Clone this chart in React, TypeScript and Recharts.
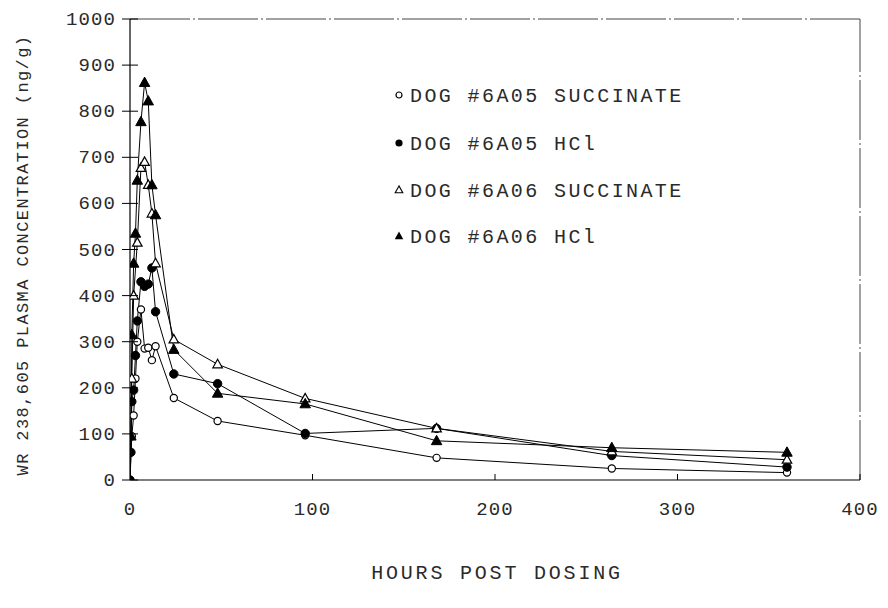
import React from "react";
import { LineChart, Line, XAxis, YAxis, ReferenceLine } from "recharts";

// ---- data ----
const seriesNames = [
  "DOG #6A05 SUCCINATE",
  "DOG #6A05 HCl",
  "DOG #6A06 SUCCINATE",
  "DOG #6A06 HCl",
];

const hours6A05Succ = [0, 1, 2, 3, 4, 6, 8, 10, 12, 14, 24, 48, 96, 168, 264, 360];
const conc6A05Succ = [0, 95, 140, 220, 300, 370, 285, 287, 260, 290, 178, 128, 97, 48, 25, 16];

const hours6A05HCl = [0, 0.5, 1, 2, 3, 4, 6, 8, 10, 12, 14, 24, 48, 96, 168, 264, 360];
const conc6A05HCl = [0, 60, 170, 195, 270, 345, 430, 420, 425, 460, 365, 230, 209, 101, 112, 53, 28];

const hours6A06Succ = [0, 1, 2, 4, 6, 8, 10, 12, 14, 24, 48, 96, 168, 264, 360];
const conc6A06Succ = [0, 220, 400, 515, 677, 690, 640, 578, 470, 305, 251, 177, 112, 62, 44];

const hours6A06HCl = [0, 0.5, 1, 2, 3, 4, 6, 8, 10, 12, 14, 24, 48, 96, 168, 264, 360];
const conc6A06HCl = [0, 95, 315, 470, 535, 650, 777, 862, 822, 640, 575, 283, 188, 165, 85, 70, 60];

const xTicks = [0, 100, 200, 300, 400];
const yTicks = [0, 100, 200, 300, 400, 500, 600, 700, 800, 900, 1000];

const zip = (h: number[], c: number[]) => h.map((t, i) => ({ t, v: c[i] }));

const FONT = "'Liberation Mono', 'DejaVu Sans Mono', monospace";
const INK = "#2a2a2a";

// ---- markers ----
const OpenCircle = (p: any) =>
  p.cx == null ? null : (
    <circle key={`oc-${p.index}`} cx={p.cx} cy={p.cy} r={3.6} fill="#fff" stroke="#000" strokeWidth={1.2} />
  );
const FilledCircle = (p: any) =>
  p.cx == null ? null : (
    <circle key={`fc-${p.index}`} cx={p.cx} cy={p.cy} r={4.2} fill="#000" stroke="#000" strokeWidth={1} />
  );
const triPath = (cx: number, cy: number, s: number) =>
  `M${cx},${cy - s} L${cx - s * 0.95},${cy + s * 0.7} L${cx + s * 0.95},${cy + s * 0.7} Z`;
const OpenTri = (p: any) =>
  p.cx == null ? null : (
    <path key={`ot-${p.index}`} d={triPath(p.cx, p.cy, 5)} fill="#fff" stroke="#000" strokeWidth={1.2} />
  );
const FilledTri = (p: any) =>
  p.cx == null ? null : (
    <path key={`ft-${p.index}`} d={triPath(p.cx, p.cy, 5.5)} fill="#000" stroke="#000" strokeWidth={1} />
  );

// ---- ticks ----
const YTick = (p: any) => {
  const { x, y, payload } = p;
  return (
    <g>
      <line x1={x + 6} x2={x + 22} y1={y} y2={y} stroke="#000" strokeWidth={1} />
      <text x={x} y={y} dy={6} textAnchor="end" fontFamily={FONT} fontSize={19} letterSpacing={1.1} fill={INK}>
        {payload.value}
      </text>
    </g>
  );
};

const XTick = (p: any) => {
  const { x, y, payload } = p;
  const axisY = y - 22;
  return (
    <g>
      {payload.value !== 0 && (
        <line x1={x} x2={x} y1={axisY - 6} y2={axisY} stroke="#000" strokeWidth={1} />
      )}
      <text x={x} y={y + 13} textAnchor="middle" fontFamily={FONT} fontSize={19} letterSpacing={1.1} fill={INK}>
        {payload.value}
      </text>
    </g>
  );
};

const legendMarkers = [
  <circle cx={0} cy={0} r={3} fill="#fff" stroke="#000" strokeWidth={1.2} />,
  <circle cx={0} cy={0} r={3.6} fill="#000" />,
  <path d={triPath(0, 0, 4)} fill="#fff" stroke="#000" strokeWidth={1.1} />,
  <path d={triPath(0, 0, 4.5)} fill="#000" />,
];
const legendRows = [95, 143, 190, 236];

export default function App() {
  return (
    <div style={{ position: "absolute", left: 0, top: 0, width: 888, height: 608, background: "#fff" }}>
      <LineChart
        width={888}
        height={608}
        margin={{ top: 19, right: 28, bottom: 0, left: 0 }}
        style={{ position: "absolute", left: 0, top: 0 }}
      >
        <XAxis
          type="number"
          dataKey="t"
          domain={[0, 400]}
          ticks={xTicks}
          allowDataOverflow
          axisLine={{ stroke: "#000", strokeWidth: 1.2 }}
          tickLine={false}
          tickSize={6}
          tickMargin={16}
          tick={<XTick />}
          height={128}
        />
        <YAxis
          type="number"
          domain={[0, 1000]}
          ticks={yTicks}
          allowDataOverflow
          axisLine={{ stroke: "#000", strokeWidth: 1.2 }}
          tickLine={false}
          tickSize={8}
          tickMargin={6}
          tick={<YTick />}
          width={130}
        />
        <ReferenceLine y={1000} stroke="#444" strokeWidth={1} strokeDasharray="60 3 2 3" />
        <ReferenceLine x={400} stroke="#444" strokeWidth={1} strokeDasharray="60 3 2 3" />
        <Line
          data={zip(hours6A05Succ, conc6A05Succ)}
          dataKey="v"
          name={seriesNames[0]}
          stroke="#000"
          strokeWidth={1}
          dot={OpenCircle}
          activeDot={false}
          isAnimationActive={false}
        />
        <Line
          data={zip(hours6A05HCl, conc6A05HCl)}
          dataKey="v"
          name={seriesNames[1]}
          stroke="#000"
          strokeWidth={1}
          dot={FilledCircle}
          activeDot={false}
          isAnimationActive={false}
        />
        <Line
          data={zip(hours6A06Succ, conc6A06Succ)}
          dataKey="v"
          name={seriesNames[2]}
          stroke="#000"
          strokeWidth={1}
          dot={OpenTri}
          activeDot={false}
          isAnimationActive={false}
        />
        <Line
          data={zip(hours6A06HCl, conc6A06HCl)}
          dataKey="v"
          name={seriesNames[3]}
          stroke="#000"
          strokeWidth={1}
          dot={FilledTri}
          activeDot={false}
          isAnimationActive={false}
        />
      </LineChart>
      <svg width={888} height={608} style={{ position: "absolute", left: 0, top: 0, pointerEvents: "none" }}>
        {seriesNames.map((n, i) => (
          <g key={n}>
            <g transform={`translate(399,${legendRows[i]})`}>{legendMarkers[i]}</g>
            <text x={410} y={legendRows[i] + 7} fontFamily={FONT} fontSize={20} letterSpacing={2.4} fill={INK}>
              {n}
            </text>
          </g>
        ))}
        <text
          transform="translate(28,255) rotate(-90)"
          textAnchor="middle"
          fontFamily={FONT}
          fontSize={17}
          letterSpacing={1.4}
          fill={INK}
        >
          WR 238,605 PLASMA CONCENTRATION (ng/g)
        </text>
        <text x={497} y={579} textAnchor="middle" fontFamily={FONT} fontSize={20} letterSpacing={2.8} fill={INK}>
          HOURS POST DOSING
        </text>
      </svg>
    </div>
  );
}
